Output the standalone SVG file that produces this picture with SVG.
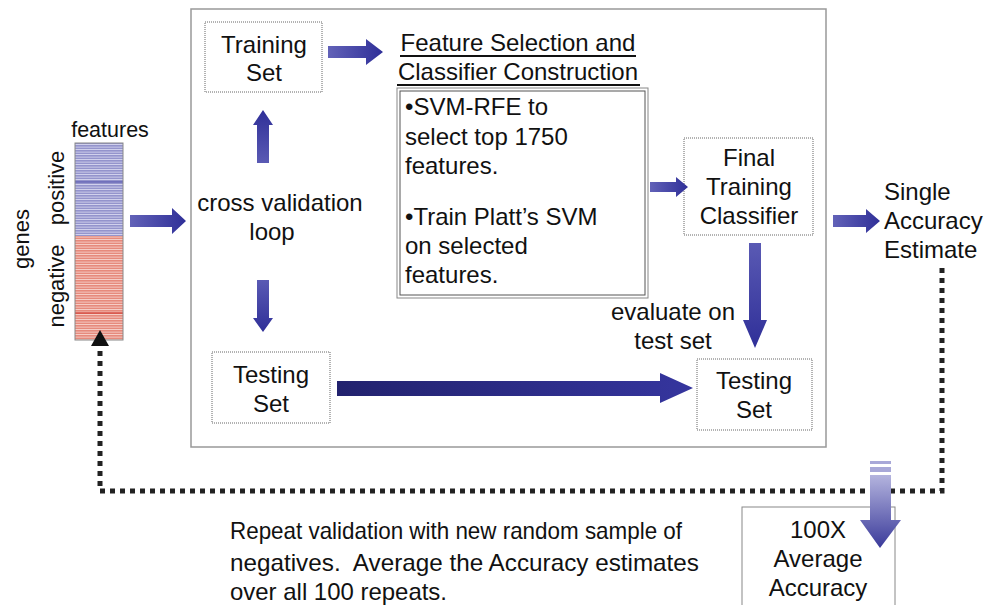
<svg xmlns="http://www.w3.org/2000/svg" width="985" height="605" viewBox="0 0 985 605">
<defs>
<style>
text{font-family:"Liberation Sans",Arial,sans-serif;font-size:24px;fill:#111}
.c{text-anchor:middle}
.r{font-size:22px}
.dot{fill:#fff;stroke:#666;stroke-width:1;stroke-dasharray:1 1}
.dash{fill:none;stroke:#222;stroke-width:5;stroke-dasharray:5 5}
</style>
<linearGradient id="gh" x1="0" y1="0" x2="1" y2="0"><stop offset="0" stop-color="#6262b8"/><stop offset="1" stop-color="#2f2f98"/></linearGradient>
<linearGradient id="gv" x1="0" y1="0" x2="0" y2="1"><stop offset="0" stop-color="#5a5ab4"/><stop offset="1" stop-color="#2f2f98"/></linearGradient>
<linearGradient id="gvu" x1="0" y1="1" x2="0" y2="0"><stop offset="0" stop-color="#5a5ab4"/><stop offset="1" stop-color="#2f2f98"/></linearGradient>
<linearGradient id="glong" x1="0" y1="0" x2="1" y2="0"><stop offset="0" stop-color="#22226e"/><stop offset="1" stop-color="#35359e"/></linearGradient>
<linearGradient id="gbig" x1="0" y1="0" x2="0" y2="1"><stop offset="0" stop-color="#b4b4de"/><stop offset="1" stop-color="#3a3a9a"/></linearGradient>
<pattern id="pb" width="48" height="2.5" patternUnits="userSpaceOnUse"><rect width="48" height="2.5" fill="#9494cc"/><rect y="1.7" width="48" height="0.7" fill="#e6e6f6"/></pattern>
<pattern id="pr" width="48" height="2.5" patternUnits="userSpaceOnUse"><rect width="48" height="2.5" fill="#e68a7c"/><rect y="1.7" width="48" height="0.7" fill="#fbe2de"/></pattern>
</defs>

<rect x="191" y="9" width="635" height="438" fill="#fff" stroke="#999" stroke-width="1.5"/>

<g id="matrix">
<text class="c" x="110" y="137" style="font-size:21.5px">features</text>
<rect x="75" y="143" width="48" height="93" fill="url(#pb)"/>
<rect x="75" y="236" width="48" height="104" fill="url(#pr)"/>
<line x1="75" y1="182" x2="123" y2="182" stroke="#3a3aa0" stroke-width="1"/>
<line x1="75" y1="313" x2="123" y2="313" stroke="#cc2a20" stroke-width="1"/>
<rect x="75" y="143" width="48" height="197" fill="none" stroke="#888" stroke-width="1"/>
<text class="c r" transform="translate(64,188) rotate(-90)">positive</text>
<text class="c r" transform="translate(64,286) rotate(-90)">negative</text>
<text class="c r" transform="translate(29,239) rotate(-90)">genes</text>
</g>

<g id="training">
<rect class="dot" x="205" y="22" width="117" height="70"/>
<text class="c" x="264" y="53">Training</text>
<text class="c" x="264" y="81">Set</text>
</g>

<g id="crossval">
<text class="c" x="280" y="211">cross validation</text>
<text class="c" x="272" y="240">loop</text>
</g>

<g id="testing1">
<rect class="dot" x="212" y="352" width="118" height="71"/>
<text class="c" x="271" y="383">Testing</text>
<text class="c" x="271" y="412">Set</text>
</g>

<g id="featsel">
<text class="c" x="518" y="51">Feature Selection and</text>
<line x1="400" y1="56" x2="636" y2="56" stroke="#111" stroke-width="2"/>
<text class="c" x="518" y="80">Classifier Construction</text>
<line x1="397" y1="85" x2="640" y2="85" stroke="#111" stroke-width="2"/>
</g>

<g id="svmbox">
<rect x="397" y="88" width="251" height="210" fill="#fff" stroke="#888" stroke-width="1"/>
<rect x="400" y="91" width="245" height="204" fill="none" stroke="#555" stroke-width="1"/>
<text x="405" y="115">•SVM-RFE to</text>
<text x="405" y="145">select top 1750</text>
<text x="405" y="174">features.</text>
<text x="405" y="225">•Train Platt’s SVM</text>
<text x="405" y="254">on selected</text>
<text x="405" y="283">features.</text>
</g>

<g id="final">
<rect class="dot" x="684" y="138" width="129" height="97"/>
<text class="c" x="749" y="166">Final</text>
<text class="c" x="749" y="195">Training</text>
<text class="c" x="749" y="224">Classifier</text>
</g>

<g id="evaluate">
<text class="c" x="673" y="320">evaluate on</text>
<text class="c" x="673" y="349">test set</text>
</g>

<g id="testing2">
<rect class="dot" x="697" y="359" width="115" height="71"/>
<text class="c" x="754" y="389">Testing</text>
<text class="c" x="754" y="418">Set</text>
</g>

<g id="single">
<text x="884" y="200">Single</text>
<text x="884" y="229">Accuracy</text>
<text x="884" y="258">Estimate</text>
</g>

<g id="average">
<rect x="742" y="507" width="153" height="110" fill="#fff" stroke="#888" stroke-width="1"/>
<text class="c" x="818" y="538">100X</text>
<text class="c" x="818" y="567">Average</text>
<text class="c" x="818" y="596">Accuracy</text>
</g>

<g id="note">
<text x="230" y="539" textLength="452" lengthAdjust="spacingAndGlyphs">Repeat validation with new random sample of</text>
<text x="230" y="571" textLength="469" lengthAdjust="spacingAndGlyphs" xml:space="preserve">negatives.  Average the Accuracy estimates</text>
<text x="230" y="600" textLength="217" lengthAdjust="spacingAndGlyphs">over all 100 repeats.</text>
</g>

<g id="connectors">
<polygon points="328,46 366,46 366,39 383,52 366,65 366,58 328,58" fill="url(#gh)"/>
<polygon points="130,215 172,215 172,208 186,221 172,234 172,227 130,227" fill="url(#gh)"/>
<polygon points="257,163 257,125 253,125 263,110 273,125 269,125 269,163" fill="url(#gvu)"/>
<polygon points="257,280 257,318 253,318 263,332 273,318 269,318 269,280" fill="url(#gv)"/>
<polygon points="650,182 676,182 676,177 688,187 676,197 676,192 650,192" fill="url(#gh)"/>
<polygon points="749,243 761,243 761,320 767,320 755,348 743,320 749,320" fill="url(#gv)"/>
<polygon points="337,381 660,381 660,373 693,388 660,403 660,396 337,396" fill="url(#glong)"/>
<polygon points="833,215 866,215 866,209 880,221 866,233 866,227 833,227" fill="url(#gh)"/>
<polyline class="dash" points="942,268 942,491 100,491 100,346"/>
<polygon points="91,346 109,346 100,330" fill="#111"/>
<rect x="870" y="461" width="21" height="3" fill="#a8a8d8"/>
<rect x="870" y="467" width="21" height="5" fill="#a8a8d8"/>
<polygon points="870,475 891,475 891,520 901,520 880,548 860,520 870,520" fill="url(#gbig)"/>
</g>
</svg>
